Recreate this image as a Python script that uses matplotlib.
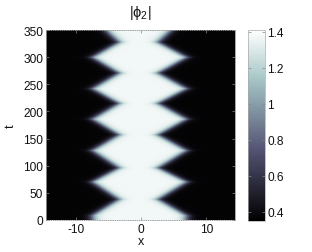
import numpy as np
import matplotlib
matplotlib.use("Agg")
import matplotlib.pyplot as plt

plt.rcParams['font.family'] = ['Liberation Sans', 'DejaVu Sans']
plt.rcParams['mathtext.fontset'] = 'custom'
plt.rcParams['mathtext.rm'] = 'Liberation Sans'
plt.rcParams['mathtext.it'] = 'Liberation Sans'
plt.rcParams['axes.unicode_minus'] = False

# ---- data ----
x_range = [-14.6, 14.4]
t_range = [0, 350]
# edge knots of the bright band (t, left edge x, right edge x)
edge_t = [0, 8, 38, 70, 96, 128, 157, 186, 215, 242, 271, 300, 328, 350]
left_edge = [-7.4, -7.5, -3.4, -7.5, -3.4, -7.5, -3.4, -7.5, -3.4, -7.5, -3.4, -7.5, -3.4, -5.4]
right_edge = [6.9, 7.0, 2.6, 7.0, 2.6, 7.0, 2.6, 7.0, 2.6, 7.0, 2.6, 7.0, 2.6, 4.6]
level_low = 0.37
level_high = 1.37
edge_width = 0.85
cbar_range = [0.35, 1.41]
x_ticks = [-10, 0, 10]
y_ticks = [0, 50, 100, 150, 200, 250, 300, 350]
cbar_ticks = [0.4, 0.6, 0.8, 1.0, 1.2, 1.4]
cbar_labels = ['0.4', '0.6', '0.8', '1', '1.2', '1.4']

# ---- build field ----
xs = np.linspace(x_range[0], x_range[1], 400)
ts = np.linspace(t_range[0], t_range[1], 500)
X, T = np.meshgrid(xs, ts)
L = np.interp(ts, edge_t, left_edge)[:, None]
R = np.interp(ts, edge_t, right_edge)[:, None]
S = 0.5 * (np.tanh((X - L) / edge_width) - np.tanh((X - R) / edge_width))
Z = level_low + (level_high - level_low) * S

fig = plt.figure(figsize=(3.12, 2.53), dpi=100)
ax = fig.add_axes([46/312, 1-221/253, 189/312, 190/253])
im = ax.imshow(Z, extent=[x_range[0], x_range[1], t_range[0], t_range[1]],
               origin='lower', aspect='auto', cmap='bone',
               vmin=cbar_range[0], vmax=cbar_range[1], interpolation='bilinear')
ax.set_xticks(x_ticks)
ax.set_yticks(y_ticks)
ax.tick_params(direction='in', length=2, width=0.5, labelsize=8.6, pad=2,
               top=True, right=True, colors='#888888', labelcolor='#111111')
for s in ax.spines.values():
    s.set_color('#999999')
    s.set_linewidth(0.6)
ax.spines['top'].set_linestyle(':')
ax.spines['bottom'].set_linestyle(':')
ax.set_xlabel('x', fontsize=9, labelpad=0, color='#111111')
ax.set_ylabel('t', fontsize=9, labelpad=5, color='#111111')
ax.set_title(r'$|\phi_2|$', fontsize=10.5, pad=10, color='#111111')

cax = fig.add_axes([248/312, 1-222/253, 17/312, 191/253])
cb = fig.colorbar(im, cax=cax)
cb.set_ticks(cbar_ticks)
cb.set_ticklabels(cbar_labels)
cb.outline.set_edgecolor('#aaaaaa')
cb.outline.set_linewidth(0.5)
cax.tick_params(direction='in', length=2, width=0.5, labelsize=8.6, pad=1.5,
                colors='#888888', labelcolor='#111111', left=True, right=True)

fig.savefig('out.png', dpi=100)
